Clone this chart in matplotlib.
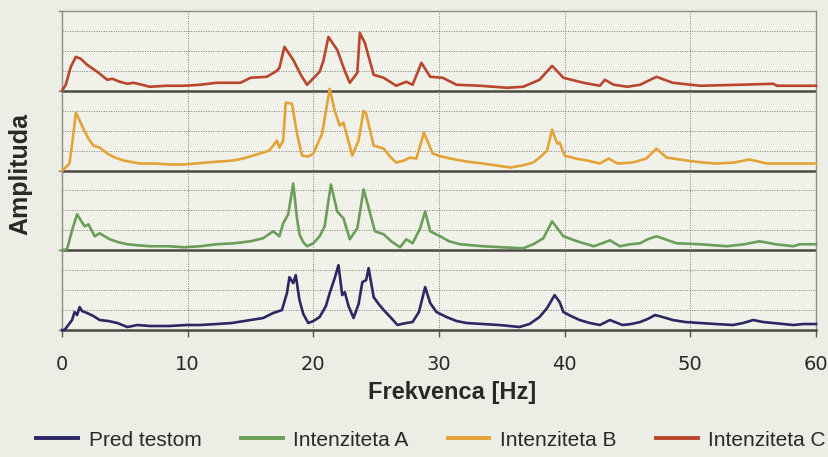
import matplotlib
matplotlib.use("Agg")
import matplotlib.pyplot as plt
from matplotlib.lines import Line2D

# === Data ===
series_labels = ["Pred testom", "Intenziteta A", "Intenziteta B", "Intenziteta C"]

pred_freq = [0, 0.2, 0.8, 1.0, 1.2, 1.4, 1.6, 2.0, 2.5, 3.0, 3.7, 4.4, 5.2, 6.0, 7.0, 8.5,
             9.9, 11.0, 12.3, 13.5, 15.0, 16.0, 16.8, 17.5, 17.9, 18.1, 18.4, 18.6, 18.9, 19.2,
             19.6, 20.0, 20.5, 21.0, 21.3, 21.7, 22.0, 22.3, 22.5, 22.8, 23.2, 23.6, 23.9, 24.2,
             24.4, 24.8, 25.2, 25.6, 26.2, 26.7, 27.0, 27.4, 27.9, 28.4, 28.9, 29.3, 29.8, 30.6,
             31.4, 32.2, 33.5, 34.8, 35.6, 36.4, 37.2, 38.0, 38.6, 39.2, 39.6, 39.9, 40.5, 41.2,
             42.0, 42.8, 43.6, 44.6, 45.3, 46.0, 46.6, 47.2, 47.8, 48.6, 49.6, 50.8, 52.0, 53.4,
             54.2, 55.0, 55.8, 56.6, 57.4, 58.2, 59.0, 60.0]
pred_amp = [0, 0, 0.5, 0.9, 0.75, 1.15, 0.95, 0.85, 0.7, 0.5, 0.45, 0.35, 0.15, 0.25, 0.2, 0.2,
            0.25, 0.25, 0.3, 0.35, 0.5, 0.6, 0.85, 1.0, 1.85, 2.65, 2.35, 2.75, 1.5, 0.8,
            0.35, 0.45, 0.65, 1.2, 1.85, 2.6, 3.25, 1.75, 1.9, 1.2, 0.6, 1.3, 2.4, 2.5,
            3.1, 1.65, 1.3, 1.0, 0.6, 0.25, 0.3, 0.35, 0.4, 0.9, 2.15, 1.35, 0.9, 0.65,
            0.45, 0.35, 0.3, 0.25, 0.2, 0.15, 0.3, 0.65, 1.1, 1.75, 1.4, 0.9, 0.7, 0.5,
            0.35, 0.25, 0.5, 0.25, 0.3, 0.4, 0.55, 0.75, 0.65, 0.5, 0.4, 0.35, 0.3, 0.25,
            0.35, 0.5, 0.4, 0.35, 0.3, 0.25, 0.3, 0.3]

a_freq = [0, 0.4, 0.8, 1.2, 1.5, 1.8, 2.1, 2.4, 2.6, 3.0, 3.8, 4.5, 5.2, 6.0, 7.0, 8.5,
          9.7, 11.0, 12.3, 13.7, 15.0, 16.0, 16.8, 17.3, 17.6, 18.0, 18.4, 18.7, 18.9, 19.2,
          19.5, 20.0, 20.5, 20.9, 21.4, 21.9, 22.1, 22.4, 22.9, 23.5, 24.0, 24.2, 24.9, 25.6,
          26.2, 26.9, 27.4, 27.9, 28.5, 28.9, 29.3, 30.1, 30.8, 31.7, 33.5, 35.0, 36.7, 37.5,
          38.3, 39.0, 39.9, 41.0, 42.3, 43.0, 43.6, 44.4, 45.2, 46.0, 46.6, 47.3, 48.0, 48.9,
          50.8, 52.9, 54.3, 55.5, 56.8, 58.2, 58.7, 60.0]
a_amp = [0, 0.05, 1.0, 1.8, 1.5, 1.2, 1.3, 0.95, 0.7, 0.85, 0.55, 0.4, 0.3, 0.25, 0.2, 0.2,
         0.15, 0.2, 0.3, 0.35, 0.45, 0.6, 0.95, 0.7, 1.35, 1.8, 3.35, 1.6, 0.8, 0.4,
         0.2, 0.35, 0.7, 1.2, 3.3, 1.95, 1.8, 1.6, 0.55, 1.1, 3.05, 2.6, 0.95, 0.8,
         0.45, 0.15, 0.55, 0.35, 1.1, 1.95, 0.95, 0.7, 0.45, 0.3, 0.2, 0.15, 0.1, 0.3,
         0.6, 1.45, 0.7, 0.45, 0.2, 0.35, 0.5, 0.2, 0.3, 0.35, 0.55, 0.7, 0.55, 0.35,
         0.3, 0.2, 0.3, 0.45, 0.3, 0.2, 0.3, 0.3]

b_freq = [0, 0.2, 0.6, 0.9, 1.1, 1.3, 1.7, 2.1, 2.5, 3.0, 3.6, 4.2, 4.9, 6.2, 7.5, 8.6,
          9.7, 10.6, 11.5, 12.5, 13.6, 14.4, 15.2, 16.0, 16.5, 17.1, 17.3, 17.6, 17.8, 18.3,
          18.7, 19.1, 19.6, 20.0, 20.7, 21.3, 21.7, 22.1, 22.4, 23.1, 23.6, 24.0, 24.2, 24.8,
          25.6, 26.1, 26.6, 27.2, 27.7, 28.2, 28.8, 29.5, 30.2, 30.9, 32.2, 33.5, 34.6, 35.7,
          36.6, 37.5, 38.1, 38.6, 39.0, 39.4, 39.6, 40.0, 40.9, 41.8, 42.8, 43.5, 44.2, 45.4,
          46.5, 47.3, 48.1, 49.7, 51.0, 52.1, 53.5, 54.7, 55.4, 56.1, 57.5, 60.0]
b_amp = [0, 0.1, 0.35, 1.8, 2.9, 2.65, 2.1, 1.6, 1.25, 1.15, 0.85, 0.65, 0.5, 0.35, 0.35, 0.3,
         0.3, 0.35, 0.4, 0.45, 0.5, 0.6, 0.75, 0.9, 1.0, 1.5, 1.15, 1.5, 3.4, 3.35,
         1.85, 0.75, 0.7, 0.85, 1.85, 4.1, 3.0, 2.25, 2.4, 0.75, 1.5, 3.0, 2.85, 1.25,
         1.1, 0.7, 0.4, 0.5, 0.65, 0.6, 1.9, 0.85, 0.7, 0.6, 0.45, 0.35, 0.25, 0.15,
         0.25, 0.4, 0.7, 1.0, 2.05, 1.35, 1.4, 0.75, 0.6, 0.5, 0.35, 0.6, 0.35, 0.4,
         0.6, 1.1, 0.65, 0.5, 0.4, 0.35, 0.4, 0.55, 0.45, 0.35, 0.35, 0.35]

c_freq = [0, 0.3, 0.7, 1.1, 1.5, 2.0, 2.8, 3.6, 4.0, 4.6, 5.2, 5.7, 7.0, 8.3, 9.7, 11.0,
          12.3, 14.2, 15.0, 16.3, 17.1, 17.3, 17.7, 18.4, 19.0, 19.5, 20.5, 20.8, 21.2, 21.9,
          22.5, 22.9, 23.5, 23.7, 24.1, 24.8, 25.6, 26.1, 26.6, 27.4, 27.9, 28.6, 29.3, 30.3,
          31.4, 33.3, 35.4, 36.7, 38.0, 39.0, 39.9, 41.5, 42.8, 43.2, 43.9, 45.0, 46.0, 47.3,
          48.6, 50.8, 53.9, 56.6, 56.9, 60.0]
c_amp = [0, 0.3, 1.2, 1.7, 1.6, 1.3, 0.95, 0.55, 0.6, 0.45, 0.35, 0.4, 0.2, 0.25, 0.25, 0.3,
         0.4, 0.4, 0.65, 0.7, 1.0, 1.15, 2.2, 1.55, 0.8, 0.3, 0.95, 1.5, 2.7, 2.05,
         1.0, 0.4, 0.9, 2.9, 2.4, 0.8, 0.65, 0.45, 0.25, 0.45, 0.3, 1.4, 0.7, 0.65,
         0.3, 0.25, 0.15, 0.2, 0.55, 1.25, 0.65, 0.4, 0.25, 0.55, 0.3, 0.2, 0.3, 0.7,
         0.4, 0.25, 0.3, 0.35, 0.25, 0.25]

x_ticks = [0, 10, 20, 30, 40, 50, 60]

# === Style ===
colors = ["#2b2862", "#6b9e58", "#e5a337", "#b9452a"]
panel_height = 4          # each trace gets its own band of 4 grid units
fig_bg = "#eceee5"
ax_bg = "#f0f2ea"
sep_color = "#4d4742"
grid_color = "#7a7a76"


def draw_chart():
    fig = plt.figure(figsize=(8.29, 4.57), dpi=100, facecolor=fig_bg)
    ax = fig.add_axes([62 / 829, 127 / 457, 754 / 829, 319 / 457], facecolor=ax_bg)

    n_panels = len(series_labels)
    ax.set_xlim(0, 60)
    ax.set_ylim(0, n_panels * panel_height)

    # === Grid: dotted inside panels, solid separators between them ===
    for yy in range(1, n_panels * panel_height):
        if yy % panel_height:
            ax.axhline(yy, color=grid_color, lw=0.7, ls=(0, (1, 1.5)), zorder=1)
        else:
            ax.axhline(yy, color=sep_color, lw=1.8, zorder=1)
    for xx in x_ticks[1:-1]:
        ax.axvline(xx, color=grid_color, lw=0.7, ls=(0, (1, 1.5)), zorder=1)

    # === Traces, stacked bottom to top ===
    traces = [(pred_freq, pred_amp), (a_freq, a_amp), (b_freq, b_amp), (c_freq, c_amp)]
    for i, (f, a) in enumerate(traces):
        offset = i * panel_height
        ax.plot(f, [v + offset for v in a], color=colors[i], lw=1.9,
                solid_joinstyle="round", zorder=3, clip_on=False)

    # === Axes cosmetics ===
    for side in ["top", "left", "right"]:
        ax.spines[side].set_color("#8d8c86")
        ax.spines[side].set_linewidth(1.0)
    ax.spines["bottom"].set_color(sep_color)
    ax.spines["bottom"].set_linewidth(1.8)

    ax.set_xticks(x_ticks)
    ax.set_xticklabels([str(t) for t in x_ticks])
    ax.tick_params(axis="x", direction="out", length=5, width=1, color="#555550",
                   labelsize=14, labelcolor="#2a2826", pad=13)
    ax.set_yticks(range(0, n_panels * panel_height + 1, panel_height))
    ax.set_yticklabels([])
    ax.tick_params(axis="y", direction="out", length=3, width=1, color="#8d8c86")

    fig.text(452 / 829, 1 - 393 / 457, "Frekvenca [Hz]", ha="center", va="center",
             fontsize=17, fontweight="bold", family="Liberation Sans", color="#2a2826")
    fig.text(20 / 829, 1 - 174 / 457, "Amplituda", ha="center", va="center", rotation=90,
             fontsize=18, fontweight="bold", family="Liberation Sans", color="#2a2826")

    # === Legend ===
    handles = [Line2D([0], [0], color=c, lw=2.8) for c in colors]
    leg = fig.legend(handles, series_labels, loc="center", bbox_to_anchor=(431 / 829, 1 - 440 / 457),
                     ncol=4, frameon=False, handlelength=2.0, handletextpad=0.5,
                     columnspacing=1.9, borderpad=0, prop={"family": "Liberation Sans", "size": 15})
    for t in leg.get_texts():
        t.set_color("#2a2826")

    fig.savefig("out.png", dpi=100, facecolor=fig_bg)
    plt.close(fig)


if __name__ == "__main__":
    draw_chart()
